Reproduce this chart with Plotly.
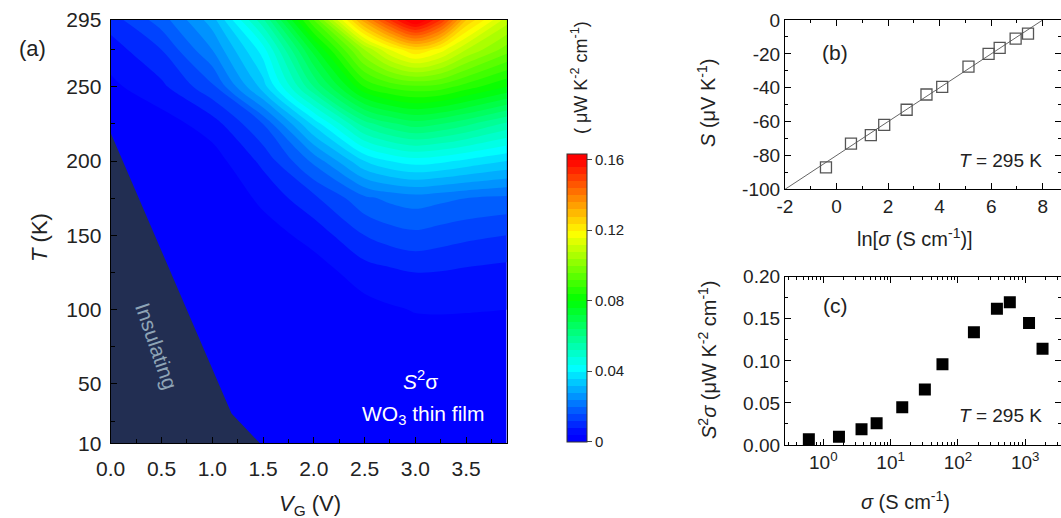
import plotly.graph_objects as go

W, H = 1061, 518
FONT = "Liberation Sans, Arial, sans-serif"

# ---------------- data ----------------
# panel (a): S^2*sigma map (uW K^-2 cm^-1) vs gate voltage and temperature
VG = [0, 0.5, 1.0, 1.5, 2.0, 2.5, 2.75, 3.0, 3.25, 3.5, 3.9]
T = [10, 50, 75, 100, 125, 150, 175, 200, 225, 250, 275, 295]
PF_T10 = [0, 0, 0, 0, 0, 0, 0, 0, 0, 0, 0]
PF_T50 = [0, 0, 0, 0, 0, 0.0005, 0.0005, 0.0006, 0.0006, 0.0005, 0.0005]
PF_T75 = [0, 0, 0, 0, 0.0005, 0.001, 0.0015, 0.002, 0.002, 0.002, 0.0015]
PF_T100 = [0, 0, 0, 0, 0.001, 0.0025, 0.0035, 0.0042, 0.0043, 0.0042, 0.004]
PF_T125 = [0, 0, 0, 0, 0.002, 0.006, 0.007, 0.008, 0.0078, 0.0072, 0.0065]
PF_T150 = [0, 0, 0, 0.002, 0.0055, 0.012, 0.014, 0.015, 0.014, 0.013, 0.012]
PF_T175 = [0, 0, 0, 0.005, 0.011, 0.019, 0.021, 0.022, 0.021, 0.020, 0.019]
PF_T200 = [0, 0, 0.002, 0.009, 0.021, 0.036, 0.040, 0.042, 0.041, 0.039, 0.036]
PF_T225 = [0, 0.002, 0.006, 0.016, 0.037, 0.058, 0.063, 0.066, 0.064, 0.061, 0.055]
PF_T250 = [0.003, 0.007, 0.015, 0.034, 0.060, 0.084, 0.089, 0.091, 0.090, 0.086, 0.080]
PF_T275 = [0.006, 0.012, 0.024, 0.042, 0.074, 0.104, 0.116, 0.124, 0.118, 0.108, 0.098]
PF_T295 = [0.010, 0.018, 0.030, 0.055, 0.092, 0.135, 0.152, 0.166, 0.152, 0.128, 0.110]
PF = [PF_T10, PF_T50, PF_T75, PF_T100, PF_T125, PF_T150, PF_T175,
      PF_T200, PF_T225, PF_T250, PF_T275, PF_T295]

# insulating region boundary
insul_VG = [0, 0, 1.19, 1.47, 0]
insul_T = [10, 219, 30, 10, 10]

# panel (b): Seebeck vs ln(sigma)
ln_sigma = [-0.41, 0.56, 1.33, 1.85, 2.72, 3.49, 4.10, 5.12, 5.90, 6.33, 6.95, 7.43]
S_vals = [-87, -73, -68, -62, -53, -44, -39.5, -27.5, -20, -16.5, -11, -8]
fit_x = [-2, 8]
fit_S = [-100, 0]

# panel (c): power factor vs sigma
sigma = [0.61, 1.71, 3.7, 6.2, 14.9, 32.3, 59, 173, 380, 591, 1140, 1810]
PF_295 = [0.0067, 0.0099, 0.0186, 0.0257, 0.0448, 0.066, 0.096, 0.134, 0.162, 0.1695, 0.145, 0.1145]

cb_ticks = [0, 0.04, 0.08, 0.12, 0.16]
cb_text = ["0", "0.04", "0.08", "0.12", "0.16"]

# ---------------- helpers ----------------
def px(x):
    return x / W

def py(y):
    return 1 - y / H

jet = [[0, "rgb(0,0,255)"], [0.245, "rgb(0,255,255)"], [0.49, "rgb(0,255,0)"],
       [0.735, "rgb(255,255,0)"], [1, "rgb(255,0,0)"]]
ZMAX = 0.1635

fig = go.Figure()

fig.add_trace(go.Contour(
    x=VG, y=T, z=PF, colorscale=jet, zmin=0, zmax=ZMAX,
    contours=dict(start=0.004, end=ZMAX, size=0.004, coloring="fill", showlines=False),
    line=dict(width=0),
    colorbar=dict(
        x=px(566.7), xanchor="left", y=py(297.5), yanchor="middle",
        lenmode="pixels", len=288.4, thickness=20, thicknessmode="pixels",
        xpad=0, ypad=0,
        outlinewidth=1, outlinecolor="#333",
        tickvals=cb_ticks, ticktext=cb_text, ticks="outside", ticklen=5,
        tickfont=dict(family=FONT, size=15, color="#222"),
    ),
    xaxis="x", yaxis="y", showscale=True,
))

fig.add_trace(go.Scatter(
    x=insul_VG, y=insul_T, fill="toself", fillcolor="#222e52",
    mode="lines", line=dict(width=0, color="#222e52"), xaxis="x", yaxis="y",
    showlegend=False, hoverinfo="skip"))

# panel b
fig.add_trace(go.Scatter(x=fit_x, y=fit_S, mode="lines",
                         line=dict(color="#666", width=1), xaxis="x2", yaxis="y2",
                         showlegend=False))
fig.add_trace(go.Scatter(x=ln_sigma, y=S_vals, mode="markers",
                         marker=dict(symbol="square-open", size=11, color="#555",
                                     line=dict(width=1.3, color="#555")),
                         xaxis="x2", yaxis="y2", showlegend=False))
# panel c
fig.add_trace(go.Scatter(x=sigma, y=PF_295, mode="markers",
                         marker=dict(symbol="square", size=12, color="black"),
                         xaxis="x3", yaxis="y3", showlegend=False))

axcommon = dict(showline=True, linecolor="black", linewidth=1.2, mirror="ticks",
                ticks="inside", ticklen=6, tickwidth=1.1, tickcolor="black",
                showgrid=False, zeroline=False, automargin=False)
axa = dict(axcommon)
axa["mirror"] = True

fig.update_layout(
    width=W, height=H, margin=dict(l=0, r=0, t=0, b=0),
    paper_bgcolor="white", plot_bgcolor="white", showlegend=False,
    font=dict(family=FONT, color="#222"),
    xaxis=dict(domain=[px(110.7), px(506.7)], range=[0, 3.9], dtick=0.5, tick0=0,
               tickformat=".1f", tickfont=dict(size=21), anchor="y",
               minor=dict(dtick=0.25, tick0=0, ticks="inside", ticklen=4, tickcolor="black"),
               ticklabelstandoff=6, **axa),
    yaxis=dict(domain=[py(443.3), py(20)], range=[10, 295],
               tickvals=[10, 50, 100, 150, 200, 250, 295], tickfont=dict(size=21),
               minor=dict(dtick=25, tick0=0, ticks="inside", ticklen=4, tickcolor="black"),
               anchor="x", ticklabelstandoff=4, **axa),
    xaxis2=dict(domain=[px(785), 1], range=[-2, 8.71],
                tickvals=[-2, 0, 2, 4, 6, 8], ticktext=["-2", "0", "2", "4", "6", "8"],
                tickfont=dict(size=19),
                minor=dict(dtick=1, tick0=0, ticks="inside", ticklen=3, tickcolor="black"),
                anchor="y2", **axcommon),
    yaxis2=dict(domain=[py(189.3), py(20)], range=[-100, 0],
                tickvals=[-100, -80, -60, -40, -20, 0],
                ticktext=["-100", "-80", "-60", "-40", "-20", "0"], tickfont=dict(size=19),
                minor=dict(dtick=10, tick0=0, ticks="inside", ticklen=3, tickcolor="black"),
                anchor="x2", **axcommon),
    xaxis3=dict(domain=[px(785), 1], type="log", range=[-0.569, 3.532],
                tickvals=[1, 10, 100, 1000],
                ticktext=["10<sup>0</sup>", "10<sup>1</sup>", "10<sup>2</sup>", "10<sup>3</sup>"],
                tickfont=dict(size=19),
                minor=dict(dtick="D1", ticks="inside", ticklen=3, tickcolor="black"),
                anchor="y3", **axcommon),
    yaxis3=dict(domain=[py(445), py(276.7)], range=[0, 0.2], dtick=0.05, tick0=0,
                tickformat=".2f", tickfont=dict(size=19),
                minor=dict(dtick=0.025, tick0=0, ticks="inside", ticklen=3, tickcolor="black"),
                anchor="x3", **axcommon),
)

def ann(x, y, text, size, color="#222", angle=0, xanchor="center", yanchor="middle"):
    fig.add_annotation(x=px(x), y=py(y), xref="paper", yref="paper", text=text,
                       showarrow=False, textangle=angle, xanchor=xanchor, yanchor=yanchor,
                       font=dict(family=FONT, size=size, color=color))

ann(32, 48, "(a)", 22)
ann(40, 238, "<i>T</i> (K)", 22, angle=-90)
ann(310, 505, "<i>V</i><sub>G</sub> (V)", 22)
ann(157, 346, "Insulating", 21, color="#8ea4b6", angle=71)
ann(420, 380, "<i>S</i><sup>2</sup>σ", 21, color="white")
ann(423, 415, "WO<sub>3</sub> thin film", 21, color="white")
ann(579, 78, "( μW K<sup>-2</sup> cm<sup>-1</sup>)", 18, angle=-90)

ann(835, 52, "(b)", 21)
ann(707, 103, "<i>S</i> (μV K<sup>-1</sup>)", 20, angle=-90)
ann(915, 238, "ln[<i>σ</i> (S cm<sup>-1</sup>)]", 20)
ann(1000, 160, "<i>T</i> = 295 K", 19)

ann(835, 305, "(c)", 21)
ann(707, 360, "<i>S</i><sup>2</sup><i>σ</i> (μW K<sup>-2</sup> cm<sup>-1</sup>)", 20, angle=-90)
ann(905, 500, "<i>σ</i> (S cm<sup>-1</sup>)", 20)
ann(1000, 415, "<i>T</i> = 295 K", 19)

fig.write_html("out.html", config={"displayModeBar": False},
               post_script="document.body.style.margin='0px';document.body.style.overflow='hidden';")
